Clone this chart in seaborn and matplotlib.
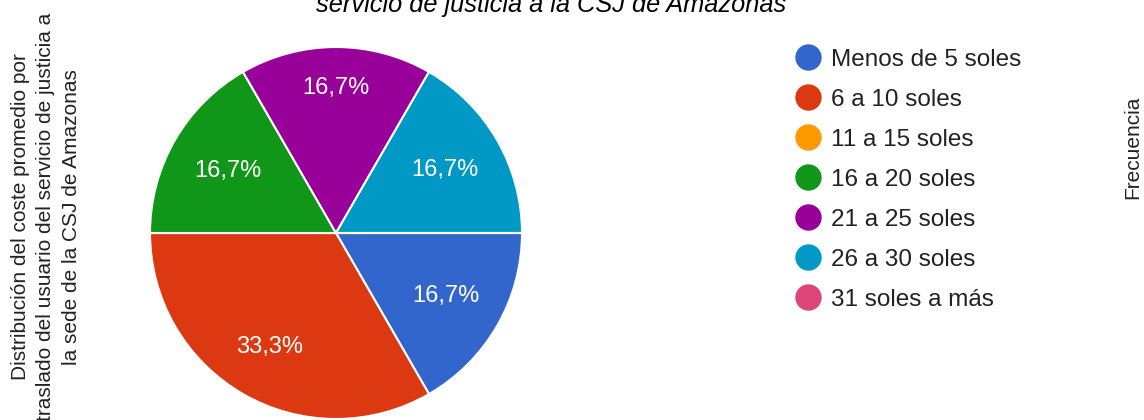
import matplotlib
matplotlib.use("Agg")
import matplotlib.pyplot as plt
from matplotlib.lines import Line2D
import numpy as np
import seaborn as sns

categories = ["Menos de 5 soles", "6 a 10 soles", "11 a 15 soles", "16 a 20 soles",
              "21 a 25 soles", "26 a 30 soles", "31 soles a más"]
values = [1, 2, 0, 1, 1, 1, 0]
colors = ["#3366CC", "#DC3912", "#FF9900", "#109618", "#990099", "#0099C6", "#DD4477"]
title = "servicio de justicia a la CSJ de Amazonas"
ylabel = "Distribución del coste promedio por\ntraslado del usuario del servicio de justicia a\nla sede de la CSJ de Amazonas"
rlabel = "Frecuencia"

sns.set_theme(style="white")
plt.rcParams['font.family'] = ['Liberation Sans', 'DejaVu Sans']
palette = sns.color_palette(colors)

W, H = 1144, 420
fig = plt.figure(figsize=(W / 100, H / 100), dpi=100)
cx, cy, r = 336, 233, 186
ax = fig.add_axes([(cx - r) / W, (H - cy - r) / H, 2 * r / W, 2 * r / H])

def fmt(p):
    return "" if p < 0.05 else f"{p:.1f}".replace(".", ",") + "%"

wedges, texts, autotexts = ax.pie(values, colors=palette, startangle=0, counterclock=False,
                                  radius=1, autopct=fmt, pctdistance=0.68,
                                  wedgeprops=dict(edgecolor="white", linewidth=1.5),
                                  textprops=dict(color="white", fontsize=17))
# label placement per slice (radial distance, as in the reference renderer)
label_dist = [0.68, 0.71, 0.68, 0.67, 0.78, 0.675, 0.68]
for w, t, d in zip(wedges, autotexts, label_dist):
    mid = np.deg2rad((w.theta1 + w.theta2) / 2)
    t.set_position((d * np.cos(mid), d * np.sin(mid)))

ax.set_xlim(-1, 1)
ax.set_ylim(-1, 1)
ax.set_aspect("equal")
ax.axis("off")

fig.text(551 / W, 1 - 5 / H, title, ha="center", va="center",
         fontsize=18.3, style="italic", color="black")

fig.text(46 / W, 1 - 217 / H, ylabel, rotation=90, ha="center", va="center",
         fontsize=15, color="#222222", linespacing=1.45, multialignment="center")
fig.text(1133 / W, 1 - 147 / H, rlabel, rotation=90, ha="center", va="center",
         fontsize=15, color="#222222")

handles = [Line2D([0], [0], marker="o", linestyle="", markersize=18,
                  markerfacecolor=c, markeredgecolor=c) for c in palette]
fig.legend(handles, categories, loc="upper left", bbox_to_anchor=(796 / W, 1 - 48.5 / H),
           frameon=False, fontsize=17.5, handletextpad=0.45, labelspacing=0.74,
           handlelength=1.0, borderaxespad=0, borderpad=0, labelcolor="#222222")

fig.savefig("out.png", dpi=100)
